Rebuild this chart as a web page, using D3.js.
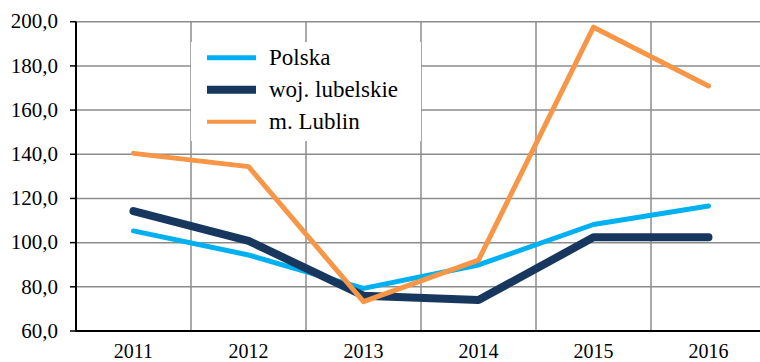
<!DOCTYPE html>
<html><head><meta charset="utf-8"><script src="https://cdn.jsdelivr.net/npm/d3@7"></script>
<style>
  svg#fig text { font-family: 'Liberation Serif', Tinos, 'Times New Roman' !important; fill: #000; }
</style>
</head>
<body style="margin:0">
<svg id="fig" width="760" height="362"></svg>
<script>
// Categories (years) and series values
const years = ["2011", "2012", "2013", "2014", "2015", "2016"];
const polska = [105.3, 94.4, 79.3, 89.9, 108.2, 116.6];
const lubelskie = [114.3, 100.8, 76.0, 74.0, 102.4, 102.4];
const lublin = [140.4, 134.4, 73.3, 92.1, 197.5, 170.9];
const yTicks = [60, 80, 100, 120, 140, 160, 180, 200];

const series = [
  { name: "Polska", values: polska, color: "#00B0F0", width: 5, legendWidth: 5 },
  { name: "woj. lubelskie", values: lubelskie, color: "#17375E", width: 8, legendWidth: 8 },
  { name: "m. Lublin", values: lublin, color: "#F79646", width: 5, legendWidth: 4 }
];

const svg = d3.select("#fig");
const plotLeft = 76, plotRight = 766, plotTop = 21.7, plotBottom = 331;

const x = d3.scaleBand().domain(years).range([plotLeft, plotRight]).padding(0);
const y = d3.scaleLinear().domain([60, 200]).range([plotBottom, plotTop]);

const grid = svg.append("g").attr("stroke", "#8c8c8c").attr("stroke-width", 1.5);

// horizontal gridlines
grid.selectAll("line.h").data(yTicks.slice(1)).join("line")
  .attr("class", "h")
  .attr("x1", plotLeft).attr("x2", plotRight)
  .attr("y1", d => y(d)).attr("y2", d => y(d));

// vertical gridlines at category boundaries
grid.selectAll("line.v").data(years).join("line")
  .attr("class", "v")
  .attr("x1", d => x(d) + x.bandwidth())
  .attr("x2", d => x(d) + x.bandwidth())
  .attr("y1", plotTop).attr("y2", plotBottom);

// y axis tick marks
svg.append("g").selectAll("line").data(yTicks).join("line")
  .attr("x1", plotLeft - 6).attr("x2", plotLeft)
  .attr("y1", d => y(d)).attr("y2", d => y(d))
  .attr("stroke", "#000").attr("stroke-width", 1.5);

// y axis labels
svg.append("g").selectAll("text").data(yTicks).join("text")
  .attr("x", plotLeft - 18).attr("y", d => y(d)).attr("dy", "0.32em")
  .attr("text-anchor", "end")
  .attr("font-family", "Liberation Serif").style("font-size", "21px")
  .text(d => d3.format(".1f")(d).replace(".", ","));

// x axis labels
svg.append("g").selectAll("text").data(years).join("text")
  .attr("x", d => x(d) + x.bandwidth() / 2).attr("y", plotBottom + 27)
  .attr("text-anchor", "middle")
  .attr("font-family", "Liberation Serif").style("font-size", "20px")
  .text(d => d);

// axis lines
svg.append("line").attr("x1", plotLeft).attr("x2", plotLeft).attr("y1", plotTop).attr("y2", plotBottom + 1)
  .attr("stroke", "#000").attr("stroke-width", 2);
svg.append("line").attr("x1", plotLeft - 1).attr("x2", 760).attr("y1", plotBottom).attr("y2", plotBottom)
  .attr("stroke", "#000").attr("stroke-width", 2);

// series lines
const line = d3.line()
  .x((d, i) => x(years[i]) + x.bandwidth() / 2)
  .y(d => y(d));

svg.append("g").selectAll("path").data(series).join("path")
  .attr("d", d => line(d.values))
  .attr("fill", "none")
  .attr("stroke", d => d.color)
  .attr("stroke-width", d => d.width)
  .attr("stroke-linecap", "round")
  .attr("stroke-linejoin", "round");

// legend
const lg = svg.append("g");
lg.append("rect").attr("x", x("2012")).attr("y", 42)
  .attr("width", x.bandwidth() * 2).attr("height", 99).attr("fill", "#fff");
const rows = lg.selectAll("g").data(series).join("g")
  .attr("transform", (d, i) => `translate(0,${57.7 + i * 32})`);
rows.append("line").attr("x1", 207).attr("x2", 256).attr("y1", 0).attr("y2", 0)
  .attr("stroke", d => d.color).attr("stroke-width", d => d.legendWidth);
rows.append("text").attr("x", 269).attr("y", 0).attr("dy", "0.33em")
  .attr("font-family", "Liberation Serif").style("font-size", "23px")
  .text(d => d.name);
</script></body></html>
